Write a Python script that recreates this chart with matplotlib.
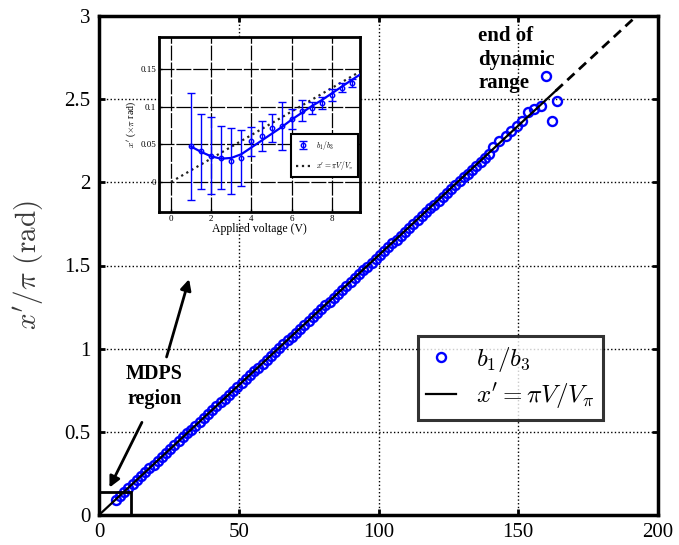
import matplotlib
matplotlib.use("Agg")
import matplotlib.pyplot as plt
from matplotlib.patches import Rectangle

plt.rcParams['font.family'] = ['Liberation Serif', 'DejaVu Serif']
plt.rcParams['mathtext.fontset'] = 'cm'

# ---------------- data ----------------
# main panel: measured b1/b3 phase (in units of pi) vs applied voltage
volt = [6, 7.5, 9, 10.5, 12, 13.5, 15, 16.5, 18, 19.5, 21, 22.5, 24, 25.5, 27,
        28.5, 30, 31.5, 33, 34.5, 36, 37.5, 39, 40.5, 42, 43.5, 45, 46.5, 48,
        49.5, 51, 52.5, 54, 55.5, 57, 58.5, 60, 61.5, 63, 64.5, 66, 67.5, 69,
        70.5, 72, 73.5, 75, 76.5, 78, 79.5, 81, 82.5, 84, 85.5, 87, 88.5, 90,
        91.5, 93, 94.5, 96, 97.5, 99, 100.5, 102, 103.5, 105, 106.5, 108,
        109.5, 111, 112.5, 114, 115.5, 117, 118.5, 120, 121.5, 123, 124.5,
        126, 127.5, 129, 130.5, 132, 133.5, 135, 136.5, 138, 139.5,
        141, 143, 145.5, 147.5, 149.5, 151.5, 153.5, 155.5, 158, 160, 163.7, 162]
phase = [0.093, 0.117, 0.140, 0.163, 0.187, 0.210, 0.233, 0.257, 0.280, 0.303,
         0.327, 0.350, 0.373, 0.397, 0.420, 0.443, 0.467, 0.490, 0.513, 0.537,
         0.560, 0.583, 0.607, 0.630, 0.653, 0.677, 0.700, 0.723, 0.747, 0.770,
         0.793, 0.816, 0.840, 0.863, 0.886, 0.910, 0.933, 0.956, 0.980, 1.003,
         1.026, 1.050, 1.073, 1.096, 1.120, 1.143, 1.166, 1.190, 1.213, 1.236,
         1.260, 1.283, 1.306, 1.330, 1.353, 1.376, 1.400, 1.423, 1.446, 1.470,
         1.493, 1.516, 1.540, 1.563, 1.586, 1.610, 1.633, 1.656, 1.680, 1.703,
         1.726, 1.750, 1.773, 1.796, 1.820, 1.843, 1.866, 1.890, 1.913, 1.936,
         1.960, 1.983, 2.006, 2.030, 2.053, 2.076, 2.100, 2.123, 2.146, 2.169,
         2.21, 2.25, 2.28, 2.31, 2.34, 2.37, 2.42, 2.44, 2.46, 2.64, 2.49, 2.37]

# theory line x' = pi V / V_pi  (solid inside range, dashed beyond)
theory_solid_v = [0, 163.4]
theory_solid_y = [0, 2.55]
theory_dash_v = [163.4, 200]
theory_dash_y = [2.55, 3.12]

# inset: low-voltage (MDPS) region
in_volt = [1, 1.5, 2, 2.5, 3, 3.5, 4, 4.5, 5, 5.5, 6, 6.5, 7, 7.5, 8, 8.5, 9]
in_phase = [0.0475, 0.041, 0.035, 0.032, 0.028, 0.032, 0.054, 0.061, 0.072,
            0.075, 0.084, 0.095, 0.0985, 0.105, 0.116, 0.1255, 0.132]
in_err = [0.071, 0.050, 0.051, 0.042, 0.044, 0.037, 0.019, 0.020, 0.019,
          0.032, 0.013, 0.014, 0.008, 0.008, 0.008, 0.006, 0.005]
fit_v = [1, 1.5, 2, 2.5, 3, 3.5, 4, 4.5, 5, 5.5, 6, 6.5, 7, 7.5, 8, 8.5, 9, 9.4]
fit_y = [0.047, 0.040, 0.034, 0.031, 0.032, 0.037, 0.046, 0.055, 0.064, 0.073,
         0.083, 0.092, 0.101, 0.109, 0.118, 0.127, 0.136, 0.143]
in_theory_v = [0, 9.4]
in_theory_y = [0, 0.147]

x_ticks = [0, 50, 100, 150, 200]
y_ticks = [0, 0.5, 1, 1.5, 2, 2.5, 3]
y_ticklabels = ['0', '0.5', '1', '1.5', '2', '2.5', '3']
in_x_ticks = [0, 2, 4, 6, 8]
in_y_ticks = [0, 0.05, 0.1, 0.15]
in_y_ticklabels = ['0', '0.05', '0.1', '0.15']

BLUE = '#0000ff'

# ---------------- figure ----------------
fig = plt.figure(figsize=(6.79, 5.45), dpi=100)
W, H = 679, 545
ax = fig.add_axes([99 / W, 1 - 515 / H, (658 - 99) / W, (515 - 16) / H])

ax.plot(volt, phase, 'o', mfc='none', mec=BLUE, ms=6.5, mew=1.7,
        zorder=3, label=r'$b_1/b_3$')
ax.plot(theory_solid_v, theory_solid_y, '-', color='black', lw=1.6, zorder=4,
        label=r"$x' = \pi V/V_\pi$")
ax.plot(theory_dash_v, theory_dash_y, color='black', lw=2.0, zorder=4,
        linestyle=(0, (3.5, 2.2)))

ax.set_xlim(0, 200)
ax.set_ylim(0, 3)
ax.set_xticks(x_ticks)
ax.set_yticks(y_ticks)
ax.set_yticklabels(y_ticklabels)
ax.tick_params(direction='in', length=4, width=2, labelsize=15,
               top=True, right=True, pad=6)
ax.grid(True, color='black', linestyle=':', linewidth=1.0)
for s in ax.spines.values():
    s.set_linewidth(2.5)
ax.set_ylabel(r"$x'/\pi\ \mathrm{(rad)}$", fontsize=21, color='#3a3a3a',
              labelpad=14)

leg = ax.legend(loc='upper left', bbox_to_anchor=(0.57, 0.359), fontsize=18,
                frameon=True, fancybox=False, edgecolor='black',
                handlelength=1.2, borderpad=0.35, labelspacing=0.3,
                handletextpad=0.8, borderaxespad=0)
leg.get_frame().set_linewidth(2.2)

# MDPS box
ax.add_patch(Rectangle((0, 0), 11.3, 0.139, fill=False, edgecolor='black',
                       lw=2, zorder=5, clip_on=False))

ax.text(19.8, 0.905, 'MDPS\nregion', ha='center', va='top', fontsize=14.5,
        fontweight='bold', linespacing=1.3)
ax.annotate('', xy=(3.3, 0.15), xytext=(15.8, 0.572),
            arrowprops=dict(arrowstyle='-|>', color='black', lw=2,
                            mutation_scale=16))
ax.annotate('', xy=(32.5, 1.434), xytext=(23.9, 0.934),
            arrowprops=dict(arrowstyle='-|>', color='black', lw=2,
                            mutation_scale=16))
ax.text(135.7, 2.94, 'end of\ndynamic\nrange', ha='left', va='top',
        fontsize=15, fontweight='bold', linespacing=1.25, zorder=6)

# ---------------- inset ----------------
iax = fig.add_axes([159 / W, 1 - 212 / H, (360 - 159) / W, (212 - 37) / H])
iax.set_facecolor('white')
iax.plot(in_theory_v, in_theory_y, ':', color='#222222', lw=1.6, zorder=2,
         label=r"$x' = \pi V/V_\pi$")
iax.plot(fit_v, fit_y, '-', color=BLUE, lw=1.6, zorder=3)
iax.errorbar(in_volt, in_phase, yerr=in_err, fmt='o', mfc='none', mec=BLUE,
             ms=3.2, mew=1.0, ecolor=BLUE, elinewidth=1.0, capsize=2.8,
             capthick=1.0, zorder=4, label=r'$b_1/b_3$')
iax.set_xlim(-0.6, 9.4)
iax.set_ylim(-0.04, 0.193)
iax.set_xticks(in_x_ticks)
iax.set_yticks(in_y_ticks)
iax.set_yticklabels(in_y_ticklabels)
iax.tick_params(direction='in', length=2, width=1, labelsize=6.5, pad=2)
iax.grid(True, color='black', linestyle=(0, (12, 1.5)), linewidth=0.9)
for s in iax.spines.values():
    s.set_linewidth(2)
iax.set_xlabel('Applied voltage (V)', fontsize=8.5, labelpad=0)
iax.set_ylabel(r"$x'$ ($\times\pi$ rad)", fontsize=7, labelpad=2)

h, l = iax.get_legend_handles_labels()
ileg = iax.legend([h[1], h[0]], [l[1], l[0]], loc='lower right',
                  bbox_to_anchor=(0.99, 0.2), fontsize=5.5, frameon=True,
                  fancybox=False, edgecolor='black', handlelength=1.8,
                  borderpad=0.6, labelspacing=1.0, framealpha=1,
                  borderaxespad=0)
ileg.get_frame().set_linewidth(1.5)

fig.savefig('out.png', dpi=100)
